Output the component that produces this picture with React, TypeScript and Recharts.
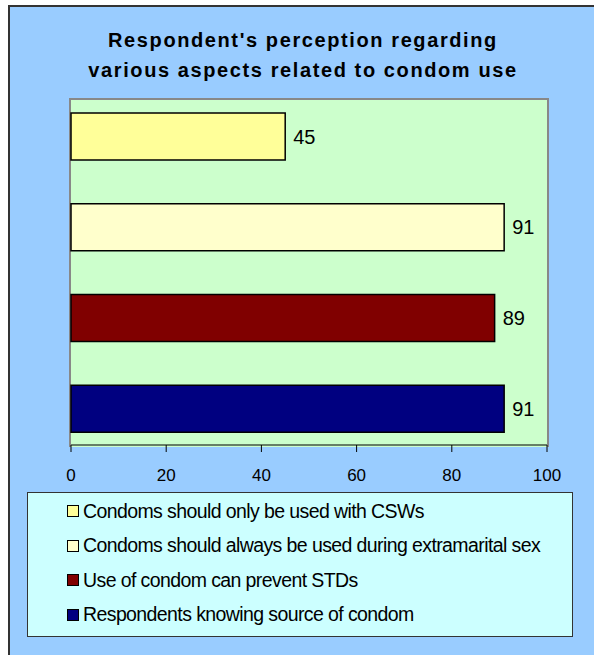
import { BarChart, Bar, XAxis, YAxis, Cell, LabelList } from "recharts";

const categories = [
  "Condoms should only be used with CSWs",
  "Condoms should always be used during extramarital sex",
  "Use of condom can prevent STDs",
  "Respondents knowing source of condom",
];
const values = [45, 91, 89, 91];
const colors = ["#FFFF99", "#FFFFCC", "#800000", "#000080"];
const xTicks = [0, 20, 40, 60, 80, 100];

const data = categories.map((name, i) => ({ name, value: values[i] }));

const font = "'Liberation Sans', Arial, sans-serif";

function XTick(props: any) {
  const { x, y, payload } = props;
  return (
    <text
      x={x}
      y={y + 27}
      textAnchor="middle"
      fill="#000"
      fontSize={17}
      fontFamily={font}
    >
      {payload.value}
    </text>
  );
}

export default function App() {
  return (
    <div
      style={{
        position: "absolute",
        left: 0,
        top: 0,
        width: 594,
        height: 655,
        background: "#fff",
        overflow: "hidden",
        fontFamily: font,
      }}
    >
      {/* outer chart area */}
      <div
        style={{
          position: "absolute",
          left: 8,
          top: 5,
          width: 594,
          height: 655,
          background: "#99CCFF",
          borderLeft: "2px solid #333",
          borderTop: "2px solid #333",
        }}
      />

      {/* title */}
      <div
        style={{
          position: "absolute",
          left: 0,
          top: 25,
          width: 606,
          textAlign: "center",
          fontWeight: "bold",
          fontSize: 20,
          lineHeight: "30px",
          letterSpacing: 1.6,
          color: "#000",
        }}
      >
        Respondent's perception regarding
        <br />
        various aspects related to condom use
      </div>

      {/* plot area background */}
      <div
        style={{
          position: "absolute",
          left: 69,
          top: 98,
          width: 476,
          height: 347,
          background: "#CCFFCC",
          border: "2px solid #888",
          borderBottom: "none",
        }}
      />

      <div style={{ position: "absolute", left: 0, top: 0 }}>
        <BarChart
          width={594}
          height={655}
          data={data}
          layout="vertical"
          margin={{ top: 100, right: 47, left: 71, bottom: 180 }}
        >
          <XAxis
            type="number"
            domain={[0, 100]}
            ticks={xTicks}
            axisLine={{ stroke: "#000", strokeWidth: 1 }}
            tickLine={{ stroke: "#000" }}
            tickSize={7}
            height={30}
            tick={<XTick />}
          />
          <YAxis
            type="category"
            dataKey="name"
            hide
            padding={{ top: -9, bottom: -9 }}
          />
          <Bar
            dataKey="value"
            barSize={47}
            stroke="#000"
            strokeWidth={1.5}
            isAnimationActive={false}
          >
            {data.map((d, i) => (
              <Cell key={d.name} fill={colors[i]} />
            ))}
            <LabelList
              dataKey="value"
              position="right"
              offset={8}
              fill="#000"
              fontSize={20}
              fontFamily={font}
            />
          </Bar>
        </BarChart>
      </div>

      {/* legend */}
      <div
        style={{
          position: "absolute",
          left: 27,
          top: 492,
          width: 544,
          height: 142,
          background: "#CCFFFF",
          border: "1px solid #333",
          paddingTop: 1,
          boxSizing: "content-box",
        }}
      >
        {categories.map((c, i) => (
          <div
            key={c}
            style={{
              display: "flex",
              alignItems: "center",
              height: 34.5,
              paddingLeft: 39,
              fontSize: 19.5,
              letterSpacing: -0.6,
              color: "#000",
            }}
          >
            <span
              style={{
                display: "inline-block",
                width: 10,
                height: 10,
                background: colors[i],
                border: "1.5px solid #000",
                marginRight: 4,
                flexShrink: 0,
              }}
            />
            {c}
          </div>
        ))}
      </div>
    </div>
  );
}
